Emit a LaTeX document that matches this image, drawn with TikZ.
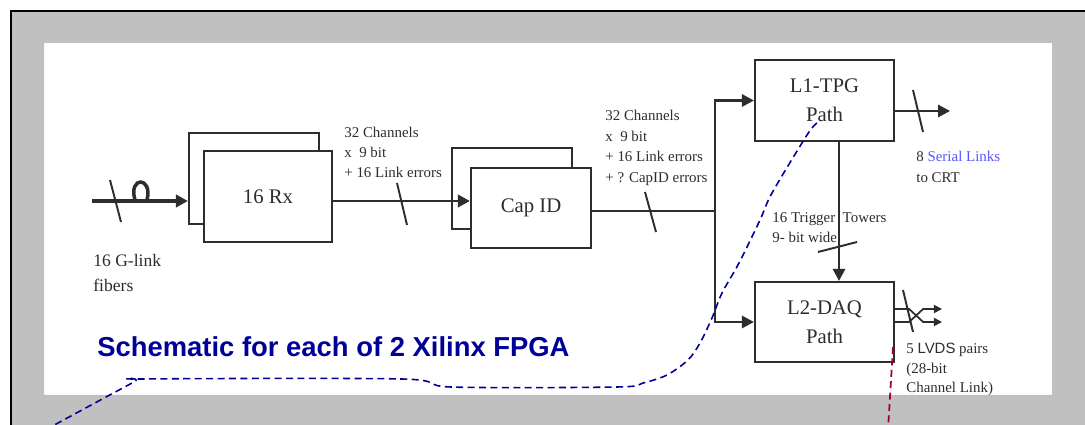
\documentclass[tikz,border=0pt]{standalone}
\usepackage{fontspec}
\setmainfont{Liberation Serif}
\setsansfont{Liberation Sans}
\usetikzlibrary{arrows.meta}
\definecolor{framegray}{RGB}{192,192,192}
\definecolor{inkgray}{RGB}{45,45,45}
\definecolor{notenavy}{RGB}{0,0,153}
\definecolor{linkblue}{RGB}{85,85,255}
\definecolor{notered}{RGB}{160,0,40}
\begin{document}
\begin{tikzpicture}[x=0.02cm, y=-0.02cm,
  box/.style={draw=inkgray, line width=1.3pt, fill=white, inner sep=0pt, text=inkgray, align=center, font=\fontsize{11.8}{16.4}\selectfont},
  note/.style={anchor=north west, inner sep=0pt, align=left, text=inkgray, font=\fontsize{8.5}{11.4}\selectfont},
  wire/.style={draw=inkgray, line width=1.2pt},
  bus/.style={wire, -{Triangle[length=6.8pt,width=7pt]}},
  pair/.style={wire, line width=1pt, -{Triangle[length=4.6pt,width=4.6pt]}},
  tick/.style={draw=inkgray, line width=1.1pt},
  callout/.style={line width=0.9pt, dash pattern=on 4pt off 2.5pt}]
\fill[white] (0,0) rectangle (1085,425);
\useasboundingbox (0,0) rectangle (1085,425);
\clip (0,0) rectangle (1085,425);

\node[box, minimum width=2.6cm, minimum height=1.82cm] (rxback) at (254,178.5) {};
\node[box, minimum width=2.56cm, minimum height=1.82cm] (rx) at (268,196.5) {16 Rx};
\node[box, minimum width=2.4cm, minimum height=1.62cm] (capback) at (512,188.5) {};
\node[box, minimum width=2.4cm, minimum height=1.6cm] (cap) at (531,208) {Cap ID};
\node[box, minimum width=2.78cm, minimum height=1.62cm] (tpg) at (824.5,100.5) {L1-TPG\\Path};
\node[box, minimum width=2.78cm, minimum height=1.6cm] (daq) at (824.5,322) {L2-DAQ\\Path};

\node[note, font=\fontsize{10}{14.2}\selectfont] (fibers) at (93,254) {16 G-link\\fibers};
\node[note] (rxout) at (344,127) {32 Channels\\x\ \ 9 bit\\+ 16 Link errors};
\node[note, font=\fontsize{8.5}{11.7}\selectfont] (capout) at (605,110) {32 Channels\\x\ \ 9 bit\\+ 16 Link errors\\+ ? CapID errors};
\node[note, font=\fontsize{8.5}{11.9}\selectfont] (crtlabel) at (916,151) {8 \textcolor{linkblue}{Serial Links}\\to CRT};
\node[note] (towers) at (772,212) {16 Trigger~ Towers\\9- bit wide};
\node[note, font=\fontsize{8.5}{11}\selectfont] (lvds) at (906,343) {5 {\sffamily LVDS} pairs\\(28-bit\\Channel Link)};
\node[anchor=west, inner sep=0pt, text=notenavy, font=\sffamily\bfseries\fontsize{15.6}{18}\selectfont] (title) at (97,347) {Schematic for each of 2 Xilinx FPGA};

\coordinate (fib) at (92,201);
\draw[bus, line width=2.4pt] (fib) -- (fib -| rxback.west);
\draw[wire, line width=2pt] (135,200) .. controls (128,176) and (153,176) .. (147,200);
\draw[tick] (110,180) -- (121,222);

\draw[bus, line width=1.6pt] (rx.east |- fib) -- (cap.west |- fib);
\draw[tick] (397,183) -- (407,225);

\coordinate (split) at (715,211);
\draw[wire] (cap.east |- split) -- (split);
\draw[tick] (645,192) -- (656,232);
\draw[bus] (split) |- (tpg.west);
\draw[bus] (split) |- (daq.west);

\coordinate (crt) at (950,111);
\draw[bus] (tpg.east |- crt) -- (crt);
\draw[tick] (913,90) -- (923,132);

\draw[bus] ([xshift=0.29cm]tpg.south) -- ([xshift=0.29cm]daq.north);
\draw[tick] (818,252) -- (857,242);

\coordinate (pairA) at (942,309);
\coordinate (pairB) at (942,322);
\draw[pair] (daq.east |- pairA) -- ++(14,0) -- ++(14,13) -- (pairB);
\draw[pair] (daq.east |- pairB) -- ++(14,0) -- ++(14,-13) -- (pairA);
\draw[tick] (903,290) -- (913,332);

\fill[framegray, even odd rule] (11,11) rectangle (1090,430) (44,43) rectangle (1052,395);

\draw[callout, notenavy] plot[smooth, tension=0.5] coordinates {(817,123) (807,135) (772,193) (760,220) (739,263) (722,293) (712,318) (700,343) (688,360) (667,375) (643,383) (617,387) (451,387) (402,379) (142,379) (134,382) (58,423) (40,433)};
\draw[callout, notered, line width=1pt] (893,347) -- (888,430);

\draw[line width=1pt] (1090,11) -- (11,11) -- (11,430);
\end{tikzpicture}
\end{document}
